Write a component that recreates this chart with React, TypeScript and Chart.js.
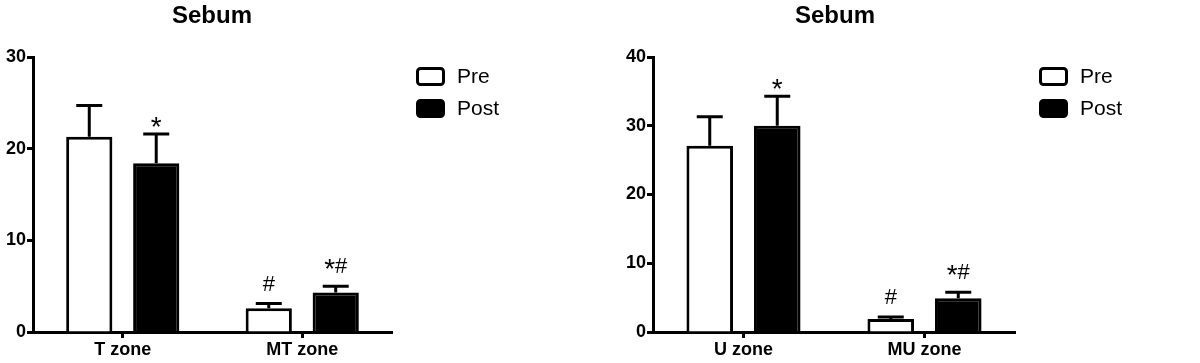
import React, { useEffect, useRef } from "react";
import { Chart, registerables } from "chart.js";

Chart.register(...registerables);

const FONT = "'Liberation Sans', Arial, Helvetica, sans-serif";

// ---- Data ----
const chartTitle = "Sebum";
const seriesNames = ["Pre", "Post"];

const leftCategories = ["T zone", "MT zone"];
const leftPre = [21.3, 2.6];
const leftPost = [18.4, 4.3];
const leftPreErr = [3.4, 0.5];
const leftPostErr = [3.2, 0.7];
const leftPreMarks = ["", "#"];
const leftPostMarks = ["*", "*#"];
const leftYMax = 30;
const leftYStep = 10;

const rightCategories = ["U zone", "MU zone"];
const rightPre = [27.1, 1.9];
const rightPost = [30.0, 4.9];
const rightPreErr = [4.2, 0.3];
const rightPostErr = [4.3, 0.9];
const rightPreMarks = ["", "#"];
const rightPostMarks = ["*", "*#"];
const rightYMax = 40;
const rightYStep = 10;

type PanelProps = {
  categories: string[];
  pre: number[];
  post: number[];
  preErr: number[];
  postErr: number[];
  preMarks: string[];
  postMarks: string[];
  yMax: number;
  yStep: number;
  axisX: number;
  areaRight: number;
  titleX: number;
  legendX: number;
};

function drawMark(ctx: CanvasRenderingContext2D, m: string, cx: number, et: number) {
  const starFont = `28px ${FONT}`;
  const hashFont = `22px ${FONT}`;
  const lone = m === "*";
  const base = lone ? et + 2 : et - 13;
  const parts = m.split("");
  const widths = parts.map((c) => {
    ctx.font = c === "*" ? starFont : hashFont;
    return ctx.measureText(c).width;
  });
  const total = widths.reduce((a, b) => a + b, 0);
  let x = cx - total / 2;
  ctx.textAlign = "left";
  ctx.textBaseline = "alphabetic";
  ctx.fillStyle = "#000";
  parts.forEach((c, i) => {
    ctx.font = c === "*" ? starFont : hashFont;
    const y = c === "*" && !lone ? base + 5 : base;
    ctx.fillText(c, x, y);
    x += widths[i];
  });
}

function Panel(p: PanelProps) {
  const ref = useRef<HTMLCanvasElement | null>(null);
  useEffect(() => {
    if (!ref.current) return;
    const errs = [p.preErr, p.postErr];
    const marks = [p.preMarks, p.postMarks];
    const overlay = {
      id: "overlay",
      afterDatasetsDraw(chart: any) {
        const ctx = chart.ctx;
        const yScale = chart.scales.y;
        ctx.save();
        chart.data.datasets.forEach((ds: any, di: number) => {
          const meta = chart.getDatasetMeta(di);
          meta.data.forEach((bar: any, i: number) => {
            const v = ds.data[i];
            const top = yScale.getPixelForValue(v);
            const et = yScale.getPixelForValue(v + errs[di][i]);
            ctx.strokeStyle = "#000";
            ctx.lineWidth = 3;
            ctx.lineCap = "butt";
            ctx.beginPath();
            ctx.moveTo(bar.x, top);
            ctx.lineTo(bar.x, et);
            ctx.moveTo(bar.x - 13, et);
            ctx.lineTo(bar.x + 13, et);
            ctx.stroke();
            const m = marks[di][i];
            if (m) drawMark(ctx, m, bar.x, et);
          });
        });
        ctx.restore();
      },
      afterDraw(chart: any) {
        const ctx = chart.ctx;
        ctx.save();
        ctx.fillStyle = "#000";
        ctx.font = `bold 24px ${FONT}`;
        ctx.textAlign = "center";
        ctx.textBaseline = "middle";
        ctx.fillText(chartTitle, p.titleX, 16);
        const boxes = [
          { y: 67, fill: "#fff" },
          { y: 99, fill: "#000" },
        ];
        boxes.forEach((b, i) => {
          ctx.beginPath();
          const x = p.legendX + 1.5;
          const y = b.y + 1.5;
          const w = 26;
          const h = 16;
          if ((ctx as any).roundRect) (ctx as any).roundRect(x, y, w, h, 3);
          else ctx.rect(x, y, w, h);
          ctx.fillStyle = b.fill;
          ctx.fill();
          ctx.lineWidth = 3;
          ctx.strokeStyle = "#000";
          ctx.stroke();
          ctx.fillStyle = "#000";
          ctx.font = `21px ${FONT}`;
          ctx.textAlign = "left";
          ctx.textBaseline = "middle";
          ctx.fillText(seriesNames[i], p.legendX + 41, b.y + 10);
        });
        ctx.restore();
      },
    };

    const chart = new Chart(ref.current, {
      type: "bar",
      data: {
        labels: p.categories,
        datasets: [
          {
            label: seriesNames[0],
            data: p.pre,
            backgroundColor: "#ffffff",
            borderColor: "#000000",
            borderWidth: 3,
            borderSkipped: "bottom",
          },
          {
            label: seriesNames[1],
            data: p.post,
            backgroundColor: "#000000",
            borderColor: "#000000",
            borderWidth: 3,
            borderSkipped: "bottom",
          },
        ],
      },
      options: {
        responsive: false,
        animation: false,
        devicePixelRatio: 1,
        layout: { padding: { left: 0, top: 57, right: 600 - p.areaRight, bottom: 0 } },
        datasets: { bar: { categoryPercentage: 0.746, barPercentage: 0.69 } },
        plugins: {
          legend: { display: false },
          title: { display: false },
          tooltip: { enabled: false },
        },
        scales: {
          x: {
            type: "category",
            offset: true,
            grid: {
              display: true,
              drawOnChartArea: false,
              drawTicks: true,
              tickLength: 6,
              tickColor: "#000",
              tickWidth: 3,
              offset: false,
            },
            border: { display: true, color: "#000", width: 3 },
            ticks: {
              color: "#000",
              padding: 1,
              font: { family: FONT, size: 18, weight: "bold" },
            },
            afterFit(s: any) {
              s.height = 31;
            },
          },
          y: {
            min: 0,
            max: p.yMax,
            grid: {
              display: true,
              drawOnChartArea: false,
              drawTicks: true,
              tickLength: 6,
              tickColor: "#000",
              tickWidth: 3,
            },
            border: { display: true, color: "#000", width: 3 },
            ticks: {
              stepSize: p.yStep,
              color: "#000",
              padding: 1,
              font: { family: FONT, size: 18, weight: "bold" },
            },
            afterFit(s: any) {
              s.width = p.axisX;
            },
          },
        },
      },
      plugins: [overlay],
    } as any);
    return () => chart.destroy();
  }, []);
  return (
    <div style={{ width: 600, height: 363, position: "relative" }}>
      <canvas ref={ref} width={600} height={363} style={{ display: "block" }} />
    </div>
  );
}

export default function App() {
  return (
    <div
      style={{
        position: "absolute",
        left: 0,
        top: 0,
        width: 1200,
        height: 363,
        display: "flex",
        background: "#fff",
      }}
    >
      <Panel
        categories={leftCategories}
        pre={leftPre}
        post={leftPost}
        preErr={leftPreErr}
        postErr={leftPostErr}
        preMarks={leftPreMarks}
        postMarks={leftPostMarks}
        yMax={leftYMax}
        yStep={leftYStep}
        axisX={33}
        areaRight={392}
        titleX={212}
        legendX={416}
      />
      <Panel
        categories={rightCategories}
        pre={rightPre}
        post={rightPost}
        preErr={rightPreErr}
        postErr={rightPostErr}
        preMarks={rightPreMarks}
        postMarks={rightPostMarks}
        yMax={rightYMax}
        yStep={rightYStep}
        axisX={53}
        areaRight={415}
        titleX={235}
        legendX={439}
      />
    </div>
  );
}
